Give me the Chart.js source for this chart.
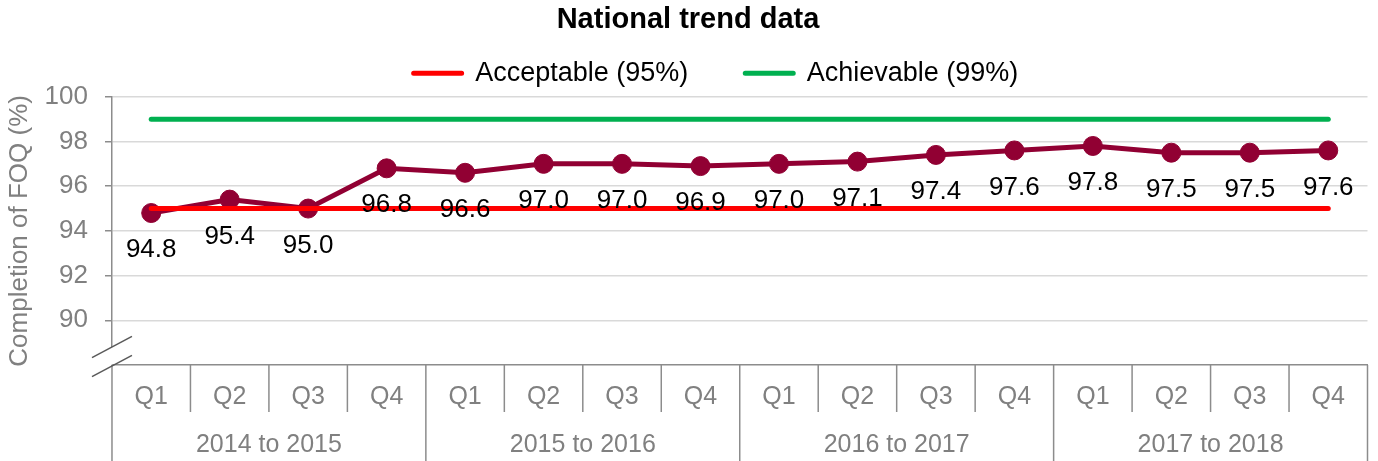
<!DOCTYPE html>
<html>
<head>
<meta charset="utf-8">
<script src="https://cdn.jsdelivr.net/npm/chart.js@4.4.1/dist/chart.umd.min.js"></script>
<style>
  html, body { margin: 0; padding: 0; background: #ffffff; }
  #wrap { width: 1378px; height: 461px; position: relative; }
</style>
</head>
<body>
<div id="wrap"><canvas id="c"></canvas></div>
<script>
// ---- data ----
const quarters = ['Q1','Q2','Q3','Q4','Q1','Q2','Q3','Q4','Q1','Q2','Q3','Q4','Q1','Q2','Q3','Q4'];
const years = ['2014 to 2015', '2015 to 2016', '2016 to 2017', '2017 to 2018'];
const completion = [94.8, 95.4, 95.0, 96.8, 96.6, 97.0, 97.0, 96.9, 97.0, 97.1, 97.4, 97.6, 97.8, 97.5, 97.5, 97.6];
const acceptable = [95, 95, 95, 95, 95, 95, 95, 95, 95, 95, 95, 95, 95, 95, 95, 95];
const achievable = [99, 99, 99, 99, 99, 99, 99, 99, 99, 99, 99, 99, 99, 99, 99, 99];
const yTicks = [88, 90, 92, 94, 96, 98, 100];
const quartersPerYear = 4;

const FONT = "'Liberation Sans', Arial, sans-serif";
const GRAY_TXT = '#808080';
const AXIS = '#8c8c8c';

// value labels drawn below each point of the trend series
const valueLabels = {
  id: 'valueLabels',
  afterDatasetsDraw(chart) {
    const ctx = chart.ctx;
    const meta = chart.getDatasetMeta(0);
    const data = chart.data.datasets[0].data;
    ctx.save();
    ctx.font = '26px ' + FONT;
    ctx.fillStyle = '#000000';
    ctx.textAlign = 'center';
    ctx.textBaseline = 'middle';
    meta.data.forEach((pt, i) => {
      ctx.fillText(Number(data[i]).toFixed(1), pt.x, pt.y + 37);
    });
    ctx.restore();
  }
};

// category dividers of the two-level x axis
const axisDividers = {
  id: 'axisDividers',
  afterDraw(chart) {
    const ctx = chart.ctx;
    const xs = chart.scales.x;
    const x2 = chart.scales.x2;
    const n = xs.ticks.length;
    ctx.save();
    ctx.strokeStyle = AXIS;
    ctx.lineWidth = 1.5;
    for (let i = 0; i <= n; i++) {
      const px = xs.getPixelForValue(i - 0.5);
      const yEnd = (i % quartersPerYear === 0) ? x2.bottom : xs.top + 47;
      ctx.beginPath();
      ctx.moveTo(px, xs.top);
      ctx.lineTo(px, yEnd);
      ctx.stroke();
    }
    ctx.restore();
  }
};

// axis break mark on the y axis
const axisBreak = {
  id: 'axisBreak',
  afterDraw(chart) {
    const ctx = chart.ctx;
    const x = chart.chartArea.left;
    const b = chart.chartArea.bottom;
    const s = 0.53;
    ctx.save();
    ctx.fillStyle = '#ffffff';
    ctx.beginPath();
    ctx.moveTo(x - 4, b - 18 + 4 * s);
    ctx.lineTo(x + 4, b - 18 - 4 * s);
    ctx.lineTo(x + 4, b + 1 - 4 * s - 1.5);
    ctx.lineTo(x - 4, b + 1 + 4 * s - 1.5);
    ctx.closePath();
    ctx.fill();
    ctx.strokeStyle = '#595959';
    ctx.lineWidth = 1.5;
    [b - 18, b + 1].forEach(yc => {
      ctx.beginPath();
      ctx.moveTo(x - 20, yc + 20 * s);
      ctx.lineTo(x + 20, yc - 20 * s);
      ctx.stroke();
    });
    ctx.restore();
  }
};

// nudge the legend row to the right, like the reference
const legendShift = {
  id: 'legendShift',
  afterLayout(chart) {
    if (chart.legend) { chart.legend.left += 56; }
  }
};

new Chart(document.getElementById('c'), {
  type: 'line',
  data: {
    labels: quarters,
    datasets: [
      {
        label: 'Completion',
        data: completion,
        borderColor: '#910033',
        backgroundColor: '#910033',
        borderWidth: 5,
        pointRadius: 9.5,
        pointBorderWidth: 1,
        pointBackgroundColor: '#910033',
        pointBorderColor: '#910033',
        tension: 0,
        order: 2
      },
      {
        label: 'Acceptable (95%)',
        data: acceptable,
        borderColor: '#ff0000',
        backgroundColor: '#ff0000',
        borderWidth: 5,
        borderCapStyle: 'round',
        borderJoinStyle: 'round',
        pointRadius: 0,
        order: 1
      },
      {
        label: 'Achievable (99%)',
        data: achievable,
        borderColor: '#00b050',
        backgroundColor: '#00b050',
        borderWidth: 5,
        borderCapStyle: 'round',
        borderJoinStyle: 'round',
        pointRadius: 0,
        order: 0
      }
    ]
  },
  options: {
    responsive: true,
    maintainAspectRatio: false,
    animation: false,
    layout: { padding: { top: 0, right: 2, bottom: 0, left: 0 } },
    plugins: {
      title: {
        display: true,
        text: 'National trend data',
        color: '#000000',
        font: { family: FONT, size: 29, weight: 'bold' },
        padding: { top: 3, bottom: -35 }
      },
      legend: {
        display: true,
        position: 'top',
        labels: {
          font: { family: FONT, size: 27 },
          color: '#000000',
          boxWidth: 48,
          boxHeight: 0,
          padding: 57,
          filter: (item) => item.datasetIndex !== 0,
          sort: (a, b) => a.datasetIndex - b.datasetIndex
        }
      },
      tooltip: { enabled: false }
    },
    scales: {
      x: {
        type: 'category',
        position: 'bottom',
        weight: 0,
        offset: true,
        grid: { display: false, drawTicks: false },
        border: { display: true, color: AXIS, width: 1.5 },
        ticks: {
          autoSkip: false,
          maxRotation: 0,
          minRotation: 0,
          padding: 17,
          color: GRAY_TXT,
          font: { family: FONT, size: 25 }
        }
      },
      x2: {
        type: 'category',
        position: 'bottom',
        weight: 1,
        labels: years,
        offset: true,
        grid: { display: false, drawTicks: false },
        border: { display: false },
        ticks: {
          autoSkip: false,
          maxRotation: 0,
          minRotation: 0,
          padding: 1,
          color: GRAY_TXT,
          font: { family: FONT, size: 25 }
        }
      },
      y: {
        min: yTicks[0],
        max: yTicks[yTicks.length - 1],
        afterBuildTicks(scale) { scale.ticks = yTicks.map(v => ({ value: v })); },
        grid: {
          color: (c) => (c.tick && c.tick.value === yTicks[0]) ? 'rgba(0,0,0,0)' : '#d9d9d9',
          tickColor: (c) => (c.tick && c.tick.value === yTicks[0]) ? 'rgba(0,0,0,0)' : AXIS,
          lineWidth: 1.5,
          drawTicks: true,
          tickLength: 7
        },
        border: { display: true, color: AXIS, width: 1.5 },
        ticks: {
          padding: 17,
          color: GRAY_TXT,
          font: { family: FONT, size: 26 },
          callback: (v) => v === yTicks[0] ? '' : String(v)
        },
        title: {
          display: true,
          text: 'Completion of FOQ (%)',
          color: GRAY_TXT,
          font: { family: FONT, size: 26 },
          padding: { top: 4.4, bottom: -8 }
        }
      }
    }
  },
  plugins: [valueLabels, axisDividers, axisBreak, legendShift]
});
</script>
</body>
</html>
